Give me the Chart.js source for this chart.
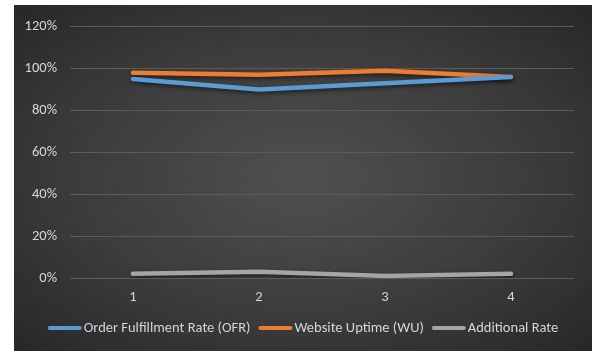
<!DOCTYPE html>
<html>
<head>
<meta charset="utf-8">
<script src="https://cdn.jsdelivr.net/npm/chart.js@4/dist/chart.umd.min.js"></script>
<style>
  html, body { margin: 0; padding: 0; background: #ffffff; }
  #frame {
    position: absolute; left: 14px; top: 5px; width: 578px; height: 346px;
    background: radial-gradient(ellipse farthest-corner at 50% 50%, #505050 0%, #3a3a3a 60%, #272727 100%);
  }
  canvas { display: block; }
</style>
</head>
<body>
<div id="frame"><canvas id="c" width="578" height="346"></canvas></div>
<script>
const categories = ['1', '2', '3', '4'];
const orderFulfillment = [95, 90, 93, 96];
const websiteUptime = [98, 97, 99, 96];
const additionalRate = [2, 3, 1, 2];
const yTicks = [0, 20, 40, 60, 80, 100, 120];

const FONT = "Calibri, Carlito, Roboto, 'Liberation Sans', sans-serif";
const TEXT = '#d6d6d6';
const FONT_SIZE = 14.5;

// Soft drop shadow under the lines
const lineShadow = {
  id: 'lineShadow',
  beforeDatasetsDraw(chart) {
    const ctx = chart.ctx;
    ctx.save();
    ctx.shadowColor = 'rgba(0,0,0,0.55)';
    ctx.shadowBlur = 4;
    ctx.shadowOffsetY = 2;
  },
  afterDatasetsDraw(chart) { chart.ctx.restore(); }
};

// Legend row along the bottom: short thick line swatch followed by the label
const bottomLegend = {
  id: 'bottomLegend',
  afterDraw(chart) {
    const ctx = chart.ctx;
    const ds = chart.data.datasets;
    const sw = 34, gapText = 2, gapItem = 8;
    ctx.save();
    ctx.font = FONT_SIZE + 'px ' + FONT;
    const widths = ds.map(d => sw + gapText + ctx.measureText(d.label).width);
    const total = widths.reduce((a, b) => a + b, 0) + gapItem * (ds.length - 1);
    let x = chart.width / 2 - total / 2;
    const y = 323;
    ds.forEach((d, i) => {
      ctx.strokeStyle = d.borderColor;
      ctx.lineWidth = 4;
      ctx.lineCap = 'round';
      ctx.beginPath();
      ctx.moveTo(x + 2, y);
      ctx.lineTo(x + sw - 2, y);
      ctx.stroke();
      ctx.fillStyle = TEXT;
      ctx.textBaseline = 'middle';
      ctx.textAlign = 'left';
      ctx.fillText(d.label, x + sw + gapText, y);
      x += widths[i] + gapItem;
    });
    ctx.restore();
  }
};

new Chart(document.getElementById('c'), {
  type: 'line',
  data: {
    labels: categories,
    datasets: [
      { label: 'Order Fulfillment Rate (OFR)', data: orderFulfillment, borderColor: '#5B9BD5', backgroundColor: '#5B9BD5' },
      { label: 'Website Uptime (WU)', data: websiteUptime, borderColor: '#ED7D31', backgroundColor: '#ED7D31' },
      { label: 'Additional Rate', data: additionalRate, borderColor: '#A5A5A5', backgroundColor: '#A5A5A5' }
    ]
  },
  options: {
    responsive: false,
    animation: false,
    devicePixelRatio: 1,
    layout: { padding: { left: 0, right: 18, top: 17, bottom: 0 } },
    elements: {
      line: { borderWidth: 4.5, tension: 0, borderCapStyle: 'round', borderJoinStyle: 'round' },
      point: { radius: 0, hoverRadius: 0 }
    },
    plugins: { legend: { display: false }, tooltip: { enabled: false } },
    scales: {
      x: {
        offset: true,
        grid: { display: false, drawTicks: false },
        border: { display: false },
        ticks: { color: TEXT, font: { family: FONT, size: FONT_SIZE }, padding: 11 },
        afterFit(scale) { scale.height = 73; }
      },
      y: {
        min: 0, max: 120,
        afterBuildTicks(scale) { scale.ticks = yTicks.map(v => ({ value: v })); },
        grid: { color: '#5c5c5c', lineWidth: 1, drawTicks: false },
        border: { display: false },
        ticks: { color: TEXT, font: { family: FONT, size: FONT_SIZE }, padding: 13, callback: v => v + '%' },
        afterFit(scale) { scale.width = 56; }
      }
    }
  },
  plugins: [lineShadow, bottomLegend]
});
</script>
</body>
</html>
